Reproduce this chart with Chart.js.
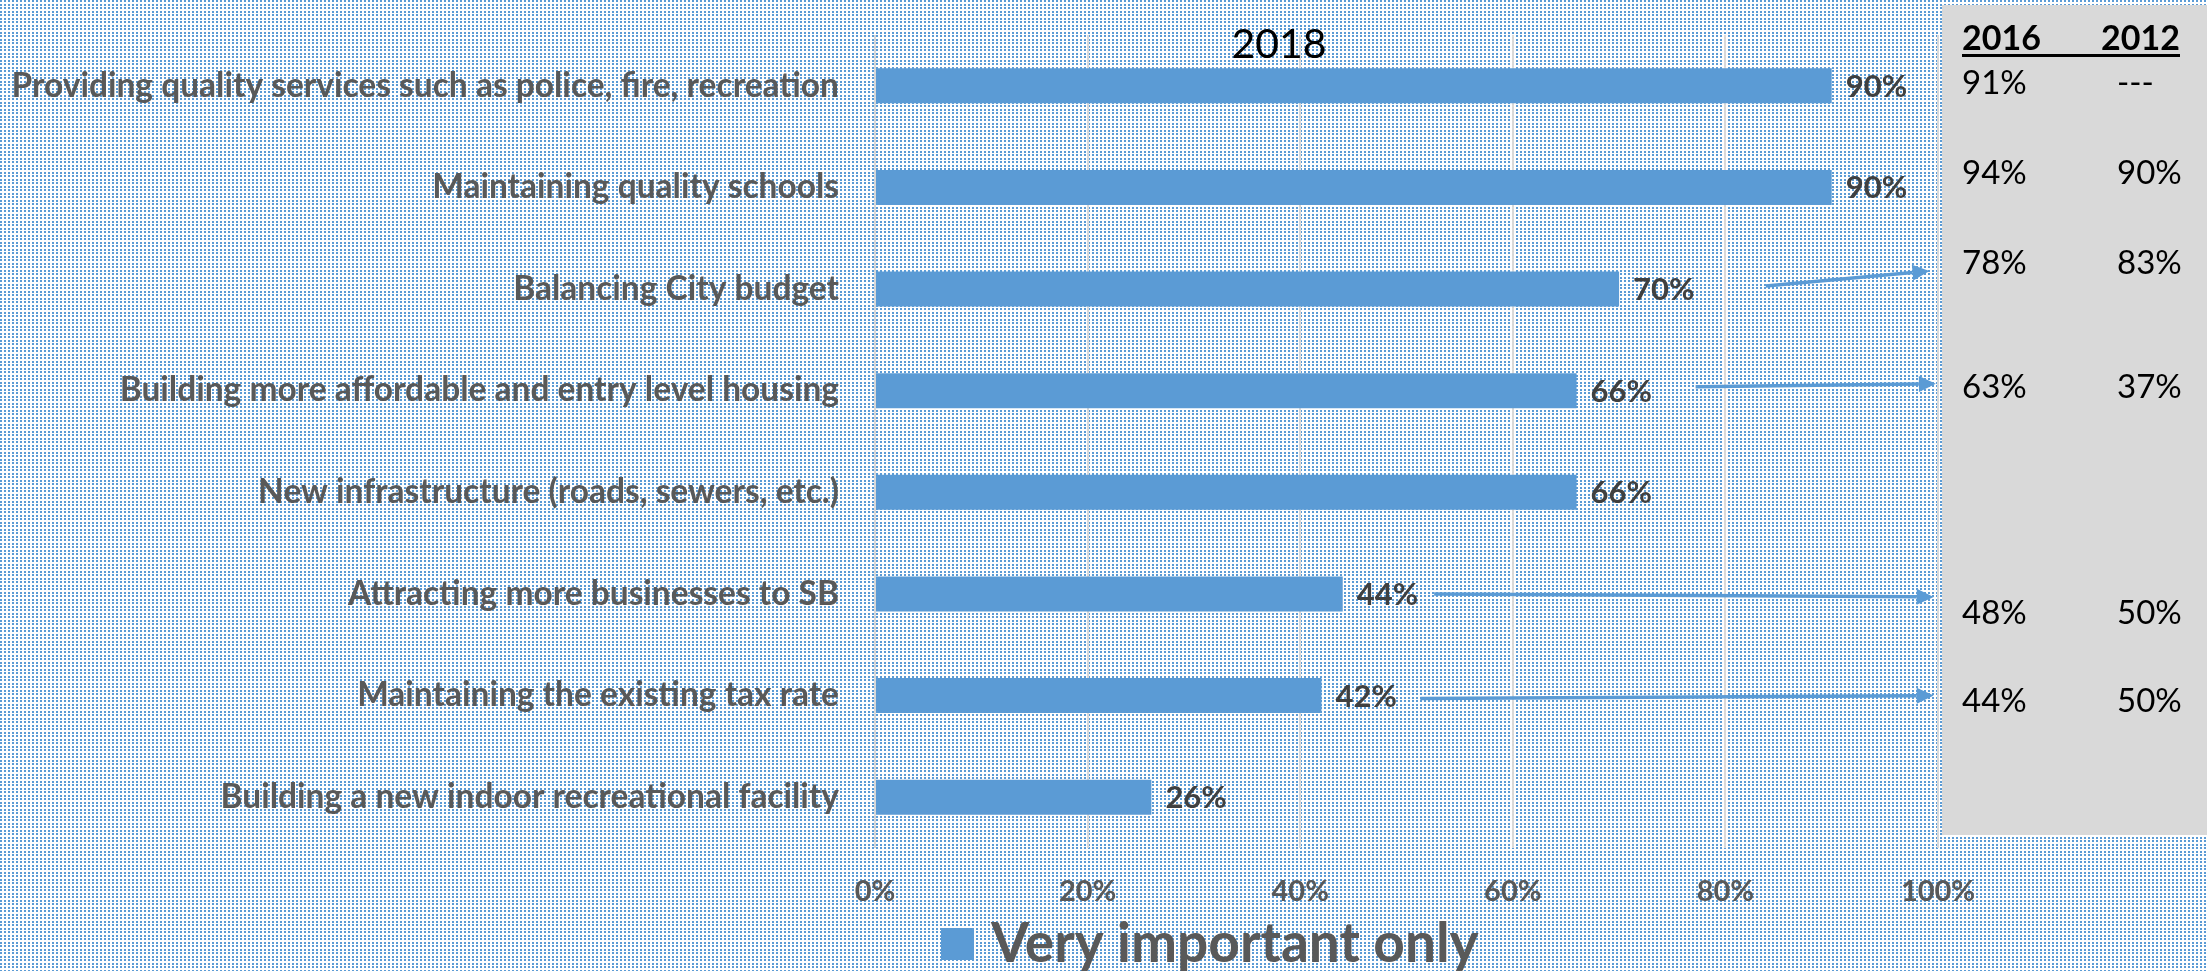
<!DOCTYPE html>
<html>
<head>
<meta charset="utf-8">
<script src="https://cdn.jsdelivr.net/npm/chart.js@4.4.1/dist/chart.umd.min.js"></script>
<style>
  html, body { margin: 0; padding: 0; background: #fff; }
  #wrap { width: 2207px; height: 971px; }
</style>
</head>
<body>
<div id="wrap"><canvas id="chart" width="2207" height="971"></canvas></div>
<script>
const categories = [
  'Providing quality services such as police, fire, recreation',
  'Maintaining quality schools',
  'Balancing City budget',
  'Building more affordable and entry level housing',
  'New infrastructure (roads, sewers, etc.)',
  'Attracting more businesses to SB',
  'Maintaining the existing tax rate',
  'Building a new indoor recreational facility'
];
const veryImportant = [90, 90, 70, 66, 66, 44, 42, 26];
const xTicks = [0, 20, 40, 60, 80, 100];
const seriesName = 'Very important only';
const chartTitle = '2018';

// side table of earlier survey years
const panelHeaders = ['2016', '2012'];
const col2016 = ['91%', '94%', '78%', '63%', '48%', '44%'];
const col2012 = ['---', '90%', '83%', '37%', '50%', '50%'];
const panelRowY = [83, 173, 263, 387, 613, 701];

// arrows pointing from a bar row to the side table
const arrows = [
  { row: 2, from: 83.8, to: 99.2, dy0: -3, dy1: -18 },
  { row: 3, from: 77.2, to: 99.8, dy0: -4, dy1: -7 },
  { row: 5, from: 52.6, to: 99.6, dy0: 0, dy1: 3 },
  { row: 6, from: 51.3, to: 99.6, dy0: 3, dy1: 0 }
];

const BLUE = '#5b9bd5';
const GREY_TXT = '#595959';

const backgroundPlugin = {
  id: 'dottedBackground',
  beforeDraw: (chart) => {
    const { ctx, width, height } = chart;
    const tile = document.createElement('canvas');
    tile.width = 4;
    tile.height = 7;
    const t = tile.getContext('2d');
    t.fillStyle = '#ffffff';
    t.fillRect(0, 0, 4, 7);
    t.fillStyle = BLUE;
    t.fillRect(0, 0, 2, 2);
    t.fillRect(0, 4, 2, 2);
    ctx.save();
    ctx.fillStyle = ctx.createPattern(tile, 'repeat');
    ctx.fillRect(0, 0, width, height);
    // grey side panel
    ctx.fillStyle = '#d9d9d9';
    ctx.fillRect(1942, 5, width - 1942, 830);
    ctx.restore();
  }
};

const annotationsPlugin = {
  id: 'annotations',
  afterDatasetsDraw: (chart) => {
    const { ctx, scales } = chart;
    const meta = chart.getDatasetMeta(0);

    // value labels at bar ends
    ctx.save();
    ctx.font = 'bold 31px Lato';
    ctx.fillStyle = '#404040';
    ctx.textAlign = 'left';
    ctx.textBaseline = 'middle';
    meta.data.forEach((bar, i) => {
      ctx.fillText(veryImportant[i] + '%', bar.x + 14, bar.y + 1);
    });
    ctx.restore();

    // arrows
    ctx.save();
    ctx.strokeStyle = BLUE;
    ctx.fillStyle = BLUE;
    ctx.lineWidth = 3.5;
    arrows.forEach((a) => {
      const yc = scales.y.getPixelForValue(a.row);
      const x0 = scales.x.getPixelForValue(a.from);
      const x1 = scales.x.getPixelForValue(a.to);
      const y0 = yc + a.dy0;
      const y1 = yc + a.dy1;
      const ang = Math.atan2(y1 - y0, x1 - x0);
      const hl = 17, hw = 8;
      const bx = x1 - hl * Math.cos(ang);
      const by = y1 - hl * Math.sin(ang);
      ctx.beginPath();
      ctx.moveTo(x0, y0);
      ctx.lineTo(bx, by);
      ctx.stroke();
      ctx.beginPath();
      ctx.moveTo(x1, y1);
      ctx.lineTo(bx + hw * Math.sin(ang), by - hw * Math.cos(ang));
      ctx.lineTo(bx - hw * Math.sin(ang), by + hw * Math.cos(ang));
      ctx.closePath();
      ctx.fill();
    });
    ctx.restore();
  },
  afterDraw: (chart) => {
    const { ctx } = chart;
    ctx.save();

    // title
    ctx.fillStyle = '#000';
    ctx.font = '41px Lato';
    ctx.textAlign = 'center';
    ctx.textBaseline = 'middle';
    ctx.fillText(chartTitle, 1279, 45);

    // side table
    ctx.font = 'bold 34px Lato';
    ctx.textBaseline = 'alphabetic';
    ctx.textAlign = 'left';
    ctx.fillText(panelHeaders[0], 1962, 50);
    ctx.textAlign = 'right';
    ctx.fillText(panelHeaders[1], 2180, 50);
    ctx.fillRect(1962, 54, 218, 3);

    ctx.font = '33px Lato';
    ctx.textBaseline = 'middle';
    ctx.textAlign = 'left';
    panelRowY.forEach((y, i) => {
      ctx.fillText(col2016[i], 1962, y);
      ctx.fillText(col2012[i], 2117, y);
    });

    // legend
    ctx.fillStyle = BLUE;
    ctx.fillRect(941, 928, 33, 32);
    ctx.fillStyle = GREY_TXT;
    ctx.font = 'bold 55px Lato';
    ctx.textAlign = 'left';
    ctx.textBaseline = 'alphabetic';
    ctx.fillText(seriesName, 991, 962);
    ctx.restore();
  }
};

const ctx = document.getElementById('chart').getContext('2d');
const chart = new Chart(ctx, {
  type: 'bar',
  data: {
    labels: categories,
    datasets: [{
      label: seriesName,
      data: veryImportant,
      backgroundColor: BLUE,
      borderWidth: 0,
      barPercentage: 0.345,
      categoryPercentage: 1
    }]
  },
  options: {
    indexAxis: 'y',
    responsive: false,
    animation: false,
    devicePixelRatio: 1,
    layout: { padding: { top: 35, right: 269, bottom: 0, left: 0 } },
    plugins: {
      legend: { display: false },
      title: { display: false },
      tooltip: { enabled: false }
    },
    scales: {
      x: {
        min: 0,
        max: 100,
        afterBuildTicks: (s) => { s.ticks = xTicks.map((v) => ({ value: v })); },
        afterFit: (s) => { s.height = 123; },
        grid: { color: '#d9d9d9', lineWidth: 2, drawTicks: false },
        border: { display: false },
        ticks: {
          padding: 26,
          color: GREY_TXT,
          font: { family: 'Lato', size: 29, weight: 'bold' },
          callback: (v) => v + '%',
          maxRotation: 0
        }
      },
      y: {
        afterFit: (s) => {
          s.width = 875;
          s.paddingTop = 0;
          s.paddingBottom = 0;
        },
        grid: { display: false, drawTicks: false },
        border: { display: false },
        ticks: {
          padding: 36,
          color: GREY_TXT,
          font: { family: 'Lato', size: 33.5, weight: 'bold' }
        }
      }
    }
  },
  plugins: [backgroundPlugin, annotationsPlugin]
});
</script>
</body>
</html>
